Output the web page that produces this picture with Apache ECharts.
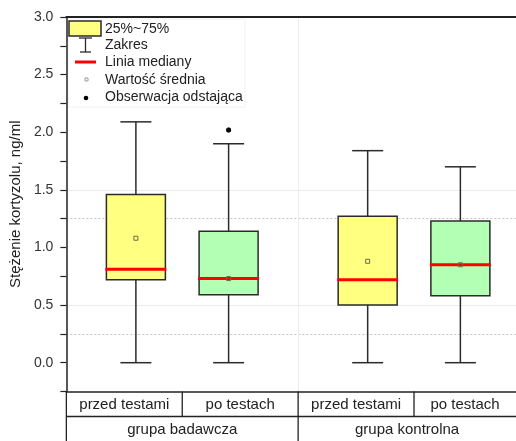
<!DOCTYPE html>
<html>
<head>
<meta charset="utf-8">
<script src="https://cdn.jsdelivr.net/npm/echarts@6/dist/echarts.min.js"></script>
<style>
  html, body { margin: 0; padding: 0; background: #fff; }
  #chart { width: 516px; height: 441px; }
</style>
</head>
<body>
<div id="chart"></div>
<script>
// Cortisol concentration, box statistics per group and stage
const categories = ['przed testami', 'po testach', 'przed testami', 'po testach'];
const groups = ['grupa badawcza', 'grupa kontrolna'];
const whiskerLow = [0.00, 0.00, 0.00, 0.00];
const quartile1 = [0.72, 0.59, 0.50, 0.58];
const medians = [0.81, 0.73, 0.72, 0.85];
const quartile3 = [1.46, 1.14, 1.27, 1.23];
const whiskerHigh = [2.09, 1.90, 1.84, 1.70];
const means = [1.08, 0.73, 0.88, 0.85];
const outliers = [[1, 2.02]]; // [category index, value]
const legendLabels = ['25%~75%', 'Zakres', 'Linia mediany', 'Wartość średnia', 'Obserwacja odstająca'];
const yAxisTitle = 'Stężenie kortyzolu, ng/ml';
const dottedGridLevels = [0.25, 1.25];
const faintGridLevels = [0.5, 1.5];

// Layout / style
const FONT = "'Liberation Sans', Arial, sans-serif";
const FILLS = ['#ffff80', '#b3ffb3'];
const EDGE = '#2b2b2b';
const BOX_W = 59;
const CAP_W = 31;
const X_MIN = 0.25, X_MAX = 5.1;
const GROUP_GAP = 0.5;

// slot position: two boxes per group, extra gap between groups
function slotX(i) {
  const g = Math.floor(i / 2);
  return 1 + i + g * GROUP_GAP;
}

const boxData = categories.map((c, i) => [
  slotX(i), whiskerLow[i], quartile1[i], medians[i], quartile3[i], whiskerHigh[i], means[i], i % 2
]);
const outlierData = outliers.map(([i, v]) => [slotX(i), v]);

function renderBox(params, api) {
  const x = api.value(0);
  const pLow = api.coord([x, api.value(1)]);
  const pQ1 = api.coord([x, api.value(2)]);
  const pMed = api.coord([x, api.value(3)]);
  const pQ3 = api.coord([x, api.value(4)]);
  const pHigh = api.coord([x, api.value(5)]);
  const pMean = api.coord([x, api.value(6)]);
  const fill = FILLS[api.value(7)];
  const cx = pMed[0];
  const bw = BOX_W / 2, cw = CAP_W / 2;
  const ln = { stroke: EDGE, lineWidth: 1.5 };
  return {
    type: 'group',
    children: [
      { type: 'line', shape: { x1: cx, y1: pLow[1], x2: cx, y2: pQ1[1] }, style: ln },
      { type: 'line', shape: { x1: cx, y1: pQ3[1], x2: cx, y2: pHigh[1] }, style: ln },
      { type: 'line', shape: { x1: cx - cw, y1: pLow[1], x2: cx + cw, y2: pLow[1] }, style: ln },
      { type: 'line', shape: { x1: cx - cw, y1: pHigh[1], x2: cx + cw, y2: pHigh[1] }, style: ln },
      { type: 'rect', shape: { x: cx - bw, y: pQ3[1], width: BOX_W, height: pQ1[1] - pQ3[1] },
        style: { fill: fill, stroke: EDGE, lineWidth: 1.5 } },
      { type: 'line', shape: { x1: cx - bw - 1, y1: pMed[1], x2: cx + bw + 1, y2: pMed[1] },
        style: { stroke: '#ff0000', lineWidth: 3 } },
      { type: 'rect', shape: { x: pMean[0] - 2, y: pMean[1] - 2, width: 4, height: 4 },
        style: { fill: 'none', stroke: '#6a6a4a', lineWidth: 1 } }
    ]
  };
}

const gridMarks = []
  .concat(dottedGridLevels.map(v => ({ yAxis: v, lineStyle: { type: [2, 2], color: '#c4c4c4', width: 1 } })))
  .concat(faintGridLevels.map(v => ({ yAxis: v, lineStyle: { type: 'solid', color: '#ececec', width: 1 } })))
  .concat([{ xAxis: (slotX(1) + slotX(2)) / 2, lineStyle: { type: 'solid', color: '#eeeeee', width: 1 } }]);

const chart = echarts.init(document.getElementById('chart'), null, { renderer: 'canvas' });

const axisLineStyle = { color: '#222', width: 1.5 };

chart.setOption({
  animation: false,
  backgroundColor: '#fff',
  grid: { left: 66, right: 0, top: 17, bottom: 49.5, containLabel: false },
  xAxis: [
    { type: 'value', min: X_MIN, max: X_MAX, position: 'bottom',
      axisLine: { show: true, onZero: false, lineStyle: axisLineStyle },
      axisTick: { show: false }, axisLabel: { show: false }, splitLine: { show: false } },
    { type: 'value', min: X_MIN, max: X_MAX, position: 'top',
      axisLine: { show: true, onZero: false, lineStyle: { color: '#222', width: 2 } },
      axisTick: { show: false }, axisLabel: { show: false }, splitLine: { show: false }, z: 20 }
  ],
  yAxis: {
    type: 'value', min: -0.25, max: 3, interval: 0.25,
    axisLine: { show: true, onZero: false, lineStyle: axisLineStyle },
    axisTick: { show: true, length: 6, lineStyle: { color: '#222', width: 1.2 } },
    axisLabel: {
      margin: 13, fontSize: 14, color: '#333', fontFamily: FONT,
      formatter: v => (v >= 0 && Math.abs(v * 2 - Math.round(v * 2)) < 1e-6) ? v.toFixed(1) : ''
    },
    splitLine: { show: false },
    name: yAxisTitle, nameLocation: 'middle', nameGap: 38,
    nameTextStyle: { fontSize: 15, color: '#222', fontFamily: FONT },
    z: 20
  },
  series: [
    {
      type: 'scatter', data: outlierData, symbol: 'circle', symbolSize: 5,
      itemStyle: { color: '#000' }, z: 1,
      markLine: { silent: true, symbol: 'none', label: { show: false }, data: gridMarks, z: 0 }
    },
    {
      type: 'custom', renderItem: renderBox, data: boxData,
      encode: { x: 0, y: [1, 2, 3, 4, 5, 6] }, z: 3
    },
    {
      type: 'scatter', data: outlierData, symbol: 'circle', symbolSize: 5,
      itemStyle: { color: '#000' }, z: 4
    }
  ]
});

// Category table beneath the plot and the legend, placed from the axis scales
function buildGraphics() {
  const px = (x, y) => chart.convertToPixel({ gridIndex: 0 }, [x, y]);
  const base = px(X_MIN, -0.25);
  const right = px(X_MAX, -0.25)[0];
  const top = base[1];
  const rowH = 25;
  const row2 = top + rowH;
  const bottom = top + 2 * rowH + 5;
  const bounds = [base[0]];
  for (let i = 0; i < categories.length - 1; i++) {
    bounds.push(px((slotX(i) + slotX(i + 1)) / 2, 0)[0]);
  }
  bounds.push(right);
  const lineStyle = { stroke: '#222', lineWidth: 1.3 };
  const els = [];
  els.push({ type: 'line', shape: { x1: base[0], y1: row2, x2: right, y2: row2 }, style: lineStyle });
  els.push({ type: 'line', shape: { x1: base[0], y1: top, x2: base[0], y2: bottom }, style: lineStyle });
  for (let i = 1; i < bounds.length - 1; i++) {
    const isGroupEdge = i % 2 === 0;
    els.push({ type: 'line', shape: { x1: bounds[i], y1: top, x2: bounds[i], y2: isGroupEdge ? bottom : row2 }, style: lineStyle });
  }
  categories.forEach((c, i) => {
    els.push({ type: 'text', style: { text: c, x: (bounds[i] + bounds[i + 1]) / 2, y: top + rowH / 2 + 1,
      align: 'center', verticalAlign: 'middle', fontSize: 15, fontFamily: FONT, fill: '#222' } });
  });
  groups.forEach((g, k) => {
    els.push({ type: 'text', style: { text: g, x: (bounds[2 * k] + bounds[2 * k + 2]) / 2, y: row2 + rowH / 2 + 1,
      align: 'center', verticalAlign: 'middle', fontSize: 15, fontFamily: FONT, fill: '#222' } });
  });

  // Legend
  const lx = 66, ly = 17;
  els.push({ type: 'rect', shape: { x: lx + 2, y: ly + 2, width: 177, height: 88 },
    style: { fill: '#fff', stroke: '#f2f2f2', lineWidth: 1 }, z: 10 });
  els.push({ type: 'rect', shape: { x: 69, y: 21, width: 32, height: 15 },
    style: { fill: FILLS[0], stroke: EDGE, lineWidth: 1.5 }, z: 11 });
  els.push({ type: 'line', shape: { x1: 79, y1: 38, x2: 92, y2: 38 }, style: { stroke: EDGE, lineWidth: 1.3 }, z: 11 });
  els.push({ type: 'line', shape: { x1: 85.5, y1: 38, x2: 85.5, y2: 52 }, style: { stroke: EDGE, lineWidth: 1.3 }, z: 11 });
  els.push({ type: 'line', shape: { x1: 80, y1: 52, x2: 91, y2: 52 }, style: { stroke: EDGE, lineWidth: 1.3 }, z: 11 });
  els.push({ type: 'line', shape: { x1: 75, y1: 62, x2: 96, y2: 62 }, style: { stroke: '#ff0000', lineWidth: 3 }, z: 11 });
  els.push({ type: 'rect', shape: { x: 85, y: 78, width: 3, height: 3 }, style: { fill: 'none', stroke: '#999', lineWidth: 1 }, z: 11 });
  els.push({ type: 'circle', shape: { cx: 86, cy: 98, r: 2.3 }, style: { fill: '#000' }, z: 11 });
  const ys = [29, 45, 62, 80, 97];
  legendLabels.forEach((t, i) => {
    els.push({ type: 'text', style: { text: t, x: 105, y: ys[i], verticalAlign: 'middle',
      fontSize: 14, fontFamily: FONT, fill: '#222' }, z: 11 });
  });
  chart.setOption({ graphic: { elements: els } });
}
buildGraphics();
</script>
</body>
</html>
